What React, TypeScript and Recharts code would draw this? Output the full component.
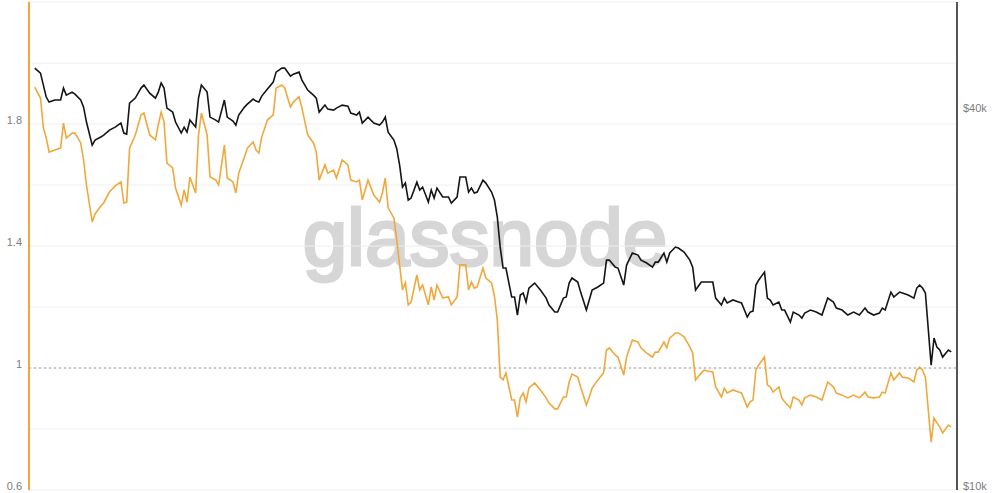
import React from 'react';
import { LineChart, Line, XAxis, YAxis, CartesianGrid, ReferenceLine } from 'recharts';

// days since 2022-01-01
const dayIndex = [
  0, 2, 3, 4, 5, 7, 9, 10, 11, 13, 14, 16, 17, 18, 20, 21, 23, 24, 26, 28,
  30, 31, 32, 33, 35, 37, 38, 40, 42, 43, 44, 45, 46, 48, 49, 51, 52, 53, 54, 56,
  57, 58, 60, 61, 63, 64, 66, 67, 69, 70, 71, 73, 74, 76, 77, 78, 79, 81, 83, 84,
  86, 87, 89, 90, 92, 93, 95, 97, 98, 99, 101, 102, 104, 105, 107, 109, 110, 112, 113, 114,
  116, 118, 120, 121, 122, 123, 125, 126, 127, 128, 129, 130, 131, 133, 134, 135, 137, 138, 139, 140,
  142, 144, 145, 147, 148, 150, 151, 152, 153, 154, 156, 157, 159, 160, 161, 162, 163, 164, 166, 167,
  168, 169, 170, 171, 172, 174, 176, 178, 179, 181, 182, 184, 185, 186, 187, 189, 190, 192, 193, 194,
  196, 198, 199, 200, 202, 203, 205, 206, 208, 210, 211, 213, 215, 216, 217, 219, 220, 221, 223, 224,
  226, 228, 229, 230, 232, 233, 234, 236, 237, 239, 240, 241, 243, 245, 246, 248, 249, 250, 251, 252,
  254, 255, 256, 257, 259, 260, 261, 263, 264, 266, 267, 268, 270, 272, 274, 276, 278, 279, 281, 283,
  285, 287, 289, 290, 292, 294, 295, 296, 298, 299, 301, 302, 304, 306, 307, 308, 309, 310, 312, 313,
  314, 315, 316, 318, 319,
];

// BTC price in $k
const priceK = [
  47.07, 46.21, 44.22, 42.32, 41.55, 41.86, 41.86, 43.74, 42.63, 43.1, 42.78, 41.86, 40.79, 38.61, 35.48, 36.14, 36.54, 36.81, 37.49, 37.9,
  38.46, 37.08, 36.94, 41.4, 42.16, 43.74, 44.22, 42.94, 42.16, 43.1, 44.55, 43.74, 40.64, 40.05, 38.61, 37.08, 37.9, 37.21, 38.89, 37.9,
  42.16, 44.22, 43.1, 39.32, 38.89, 38.61, 41.86, 39.32, 38.75, 38.18, 39.61, 40.79, 41.24, 42.01, 41.7, 41.55, 42.47, 43.58, 44.71, 46.38,
  47.07, 47.07, 45.71, 46.04, 46.38, 45.04, 43.42, 42.63, 42.16, 40.05, 41.09, 40.49, 40.35, 40.64, 41.09, 40.94, 39.9, 39.61, 40.05, 38.46,
  39.32, 38.46, 38.18, 38.61, 39.32, 37.21, 36.14, 35.0, 32.97, 30.41, 30.86, 29.0, 29.21, 30.97, 30.08, 30.41, 28.78, 30.08, 29.21, 30.3,
  29.32, 29.32, 28.68, 29.32, 31.55, 31.55, 29.86, 30.3, 29.75, 29.86, 31.2, 30.86, 29.86, 29.0, 27.24, 24.4, 22.59, 22.59, 20.31, 20.31,
  19.01, 20.46, 20.61, 19.94, 20.99, 21.38, 20.84, 20.23, 19.72, 19.22, 19.22, 20.23, 20.31, 21.38, 21.78, 21.46, 20.68, 19.36, 20.09, 20.84,
  21.07, 21.38, 23.26, 23.26, 22.67, 22.59, 21.22, 22.84, 23.87, 23.69, 23.26, 23.01, 22.67, 23.09, 23.09, 23.87, 23.09, 23.87, 24.4, 24.31,
  23.96, 23.26, 22.67, 20.84, 21.46, 21.46, 21.46, 21.46, 20.23, 19.72, 20.23, 19.87, 20.09, 19.94, 19.87, 18.87, 19.22, 19.29, 21.22, 21.62,
  22.26, 20.23, 20.09, 19.72, 19.94, 19.36, 19.36, 18.53, 19.22, 19.01, 18.8, 19.15, 19.36, 19.22, 19.01, 20.23, 19.94, 19.5, 19.36, 19.01,
  19.22, 19.01, 19.5, 19.22, 19.01, 19.15, 19.5, 19.36, 20.68, 20.31, 20.68, 20.61, 20.46, 20.23, 20.99, 21.22, 20.99, 20.61, 15.82, 17.47,
  16.9, 16.72, 16.29, 16.72, 16.6,
];

// ratio (left axis)
const ratio = [
  1.921, 1.885, 1.787, 1.754, 1.708, 1.715, 1.721, 1.803, 1.754, 1.77, 1.77, 1.738, 1.682, 1.6, 1.479, 1.505, 1.531, 1.541, 1.577, 1.597,
  1.61, 1.541, 1.544, 1.721, 1.764, 1.83, 1.836, 1.764, 1.748, 1.797, 1.839, 1.807, 1.672, 1.656, 1.59, 1.534, 1.584, 1.544, 1.626, 1.574,
  1.764, 1.836, 1.764, 1.626, 1.616, 1.6, 1.731, 1.623, 1.61, 1.574, 1.639, 1.692, 1.721, 1.741, 1.715, 1.705, 1.757, 1.813, 1.83, 1.918,
  1.928, 1.918, 1.856, 1.872, 1.889, 1.852, 1.764, 1.738, 1.708, 1.616, 1.666, 1.639, 1.649, 1.623, 1.682, 1.666, 1.616, 1.61, 1.616, 1.551,
  1.616, 1.567, 1.544, 1.574, 1.623, 1.525, 1.492, 1.42, 1.338, 1.256, 1.279, 1.207, 1.216, 1.305, 1.256, 1.272, 1.207, 1.266, 1.223, 1.272,
  1.23, 1.233, 1.207, 1.233, 1.338, 1.338, 1.256, 1.282, 1.262, 1.266, 1.328, 1.295, 1.279, 1.236, 1.157, 0.97, 0.961, 0.984, 0.895, 0.895,
  0.839, 0.902, 0.918, 0.889, 0.934, 0.951, 0.928, 0.902, 0.885, 0.866, 0.866, 0.905, 0.905, 0.954, 0.98, 0.97, 0.938, 0.879, 0.905, 0.934,
  0.961, 0.984, 1.059, 1.066, 1.043, 1.036, 0.977, 1.036, 1.092, 1.085, 1.066, 1.049, 1.036, 1.052, 1.052, 1.085, 1.066, 1.098, 1.115, 1.115,
  1.102, 1.069, 1.049, 0.961, 0.984, 0.993, 0.99, 0.987, 0.938, 0.905, 0.934, 0.918, 0.928, 0.921, 0.918, 0.872, 0.889, 0.895, 0.993, 1.01,
  1.036, 0.944, 0.938, 0.921, 0.938, 0.902, 0.889, 0.869, 0.905, 0.895, 0.879, 0.902, 0.911, 0.905, 0.895, 0.954, 0.938, 0.918, 0.911, 0.902,
  0.911, 0.902, 0.921, 0.905, 0.902, 0.905, 0.921, 0.918, 0.984, 0.961, 0.984, 0.97, 0.967, 0.954, 0.993, 1.003, 0.993, 0.97, 0.757, 0.836,
  0.82, 0.807, 0.787, 0.813, 0.807,
];

const ratioTicks = [0.6, 0.8, 1.0, 1.2, 1.4, 1.6, 1.8, 2.0, 2.2];
const ratioLabels = [0.6, 1, 1.4, 1.8];
const priceTicks = [10, 40];

const data = dayIndex.map((d, i) => ({ day: d, price: priceK[i], ratio: ratio[i] }));

const ORANGE = '#f0a83c';
const LABEL = '#7d7d7d';
const FONT = '"Liberation Sans", Arial, sans-serif';

const LeftTick = (props: any) => {
  const { x, y, payload } = props;
  const v = payload.value;
  if (!ratioLabels.some((l) => Math.abs(l - v) < 1e-6)) return null;
  return (
    <text x={x} y={y} textAnchor="end" fontSize={11} fill={LABEL} fontFamily={FONT}>
      {String(Number(v.toFixed(2)))}
    </text>
  );
};

const RightTick = (props: any) => {
  const { x, y, payload } = props;
  return (
    <text x={x} y={y} textAnchor="start" fontSize={11} fill={LABEL} fontFamily={FONT}>
      {`$${payload.value}k`}
    </text>
  );
};

export default function App() {
  return (
    <div style={{ position: 'absolute', left: 0, top: 0, width: 1000, height: 493, background: '#fff', overflow: 'hidden' }}>
      <svg width={1000} height={493} style={{ position: 'absolute', left: 0, top: 0 }}>
        <text
          x={485}
          y={265}
          textAnchor="middle"
          fontSize={80}
          fontFamily={FONT}
          fill="#d6d6d6"
          stroke="#d6d6d6"
          strokeWidth={3}
        >
          glassnode
        </text>
      </svg>
      <div style={{ position: 'absolute', left: 0, top: 0 }}>
        <LineChart width={1000} height={493} data={data} margin={{ top: 2, right: 0, bottom: 3, left: 0 }}>
          <CartesianGrid vertical={false} stroke="#eeeeee" yAxisId="ratio" />
          <XAxis dataKey="day" type="number" domain={[-2, 321]} hide />
          <YAxis
            yAxisId="ratio"
            orientation="left"
            type="number"
            domain={[0.6, 2.2]}
            ticks={ratioTicks}
            interval={0}
            width={29}
            axisLine={{ stroke: ORANGE, strokeWidth: 2 }}
            tickLine={false}
            tickMargin={1}
            tick={<LeftTick />}
            allowDataOverflow
          />
          <YAxis
            yAxisId="price"
            orientation="right"
            type="number"
            scale="log"
            domain={[10, 60]}
            ticks={priceTicks}
            interval={0}
            width={43}
            axisLine={{ stroke: '#555555', strokeWidth: 2 }}
            tickLine={false}
            tickMargin={0}
            tick={<RightTick />}
            allowDataOverflow
          />
          <ReferenceLine yAxisId="ratio" y={1} stroke="#9a9a9a" strokeDasharray="2 3" />
          <Line
            yAxisId="price"
            dataKey="price"
            type="linear"
            stroke="#151515"
            strokeWidth={1.6}
            dot={false}
            isAnimationActive={false}
          />
          <Line
            yAxisId="ratio"
            dataKey="ratio"
            type="linear"
            stroke={ORANGE}
            strokeWidth={1.6}
            dot={false}
            isAnimationActive={false}
          />
        </LineChart>
      </div>
    </div>
  );
}
